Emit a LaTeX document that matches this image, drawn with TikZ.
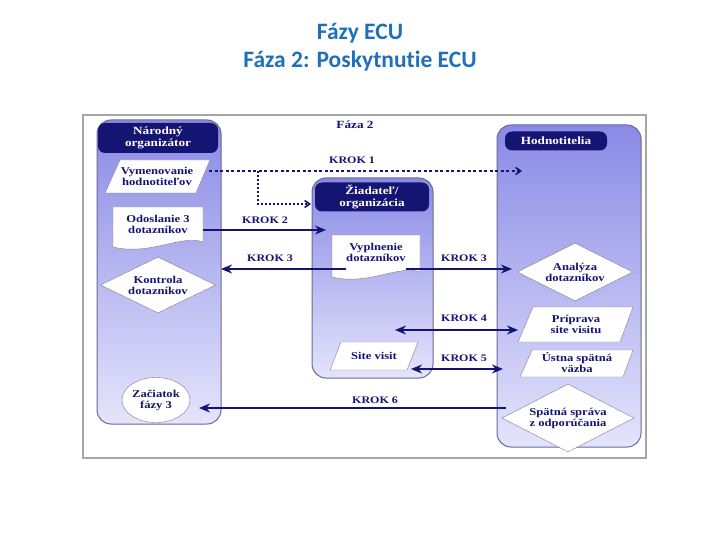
\documentclass[tikz,border=0pt]{standalone}
\usepackage{fontspec}
\setmainfont{Liberation Serif}
\newfontfamily\titlefont[Ligatures=NoCommon]{Carlito}
\newfontfamily\diafont[FakeStretch=1.2]{Liberation Serif}
\usetikzlibrary{shapes.geometric,arrows.meta}

\definecolor{navy}{RGB}{20,20,115}
\definecolor{titleblue}{RGB}{31,112,185}
\definecolor{lanetop}{RGB}{138,138,230}
\definecolor{lanebot}{RGB}{228,228,252}
\definecolor{laneline}{RGB}{105,105,150}
\definecolor{shapeline}{RGB}{125,125,145}

\tikzset{
  lane/.style={top color=lanetop, bottom color=lanebot, draw=laneline, line width=1pt, rounded corners=14pt},
  head/.style={fill=navy, text=white, rounded corners=7pt, align=center, inner sep=1pt,
    font=\diafont\bfseries\fontsize{11}{11.5}\selectfont},
  txt/.style={text=navy, align=center, inner sep=0pt,
    font=\diafont\bfseries\fontsize{10.5}{11}\selectfont},
  dia/.style={txt, diamond, draw=shapeline, fill=white, aspect=2},
  doc/.style={draw=shapeline, fill=white},
  flow/.style={navy, line width=2.6pt, -{Stealth[length=11pt,width=9pt]}},
  both/.style={navy, line width=2.6pt, {Stealth[length=11pt,width=9pt]}-{Stealth[length=11pt,width=9pt]}},
  dashflow/.style={navy, line width=1.6pt, dash pattern=on 3pt off 2.5pt, -{Straight Barb[length=5pt,width=7pt]}},
  krok/.style={text=navy, font=\diafont\bfseries\fontsize{10}{10}\selectfont}
}

\begin{document}
\begin{tikzpicture}[x=1pt,y=-1pt]
\useasboundingbox (0,0) rectangle (720,540);

% title
\node[font=\titlefont\bfseries\fontsize{23.5}{28}\selectfont, text=titleblue, align=center] (title) at (360,47) {Fázy ECU\\Fáza 2: Poskytnutie ECU};

% frame and lanes
\draw[draw=black!35, line width=1.2pt, fill=white] (83,115) rectangle (646,458);
\shade[lane] (97,120) rectangle (221,424);
\shade[lane] (312,178) rectangle (433,378);
\shade[lane] (497,125) rectangle (641,447);

\node[text=navy, font=\diafont\bfseries\fontsize{11}{11}\selectfont] (faza) at (355,125) {Fáza 2};

% lane headers
\node[head, minimum width=120, minimum height=30] (nat) at (158,138) {Národný\\organizátor};
\node[head, minimum width=114, minimum height=29] (zia) at (372,197) {Žiadateľ/\\organizácia};
\node[head, minimum width=102, minimum height=19] (hod) at (556,141) {Hodnotitelia};

% left lane
\draw[doc] (120,160) -- (210,160) -- (196,193) -- (105,193) -- cycle;
\node[txt] (vym) at (157,176) {Vymenovanie\\hodnotiteľov};
\draw[doc] (113,207) -- (203,207) -- (203,242) .. controls (182,234) and (150,256) .. (113,247) -- cycle;
\node[txt] (odo) at (158,224) {Odoslanie 3\\dotazníkov};
\node[dia, minimum width=115, minimum height=56] (kon) at (158,285) {Kontrola\\dotazníkov};
\node[txt, ellipse, draw=shapeline, fill=white, minimum width=68, minimum height=45] (zac) at (156,400) {Začiatok\\fázy 3};

% middle lane
\draw[doc] (332,235) -- (420,235) -- (420,272) .. controls (400,264) and (368,286) .. (332,277) -- cycle;
\node[txt] (vyp) at (376,252) {Vyplnenie\\dotazníkov};
\draw[doc] (341,342) -- (418,342) -- (407,370) -- (330,370) -- cycle;
\node[txt] (sit) at (374,356) {Site visit};

% right lane
\node[dia, minimum width=116, minimum height=58] (ana) at (575,272) {Analýza\\dotazníkov};
\draw[doc] (533,307) -- (633,307) -- (620,342) -- (518,342) -- cycle;
\node[txt] (pri) at (576,324) {Príprava\\site visitu};
\draw[doc] (532,350) -- (633,350) -- (623,377) -- (520,377) -- cycle;
\node[txt] (ust) at (577,363) {Ústna spätná\\väzba};
\node[dia, minimum width=132, minimum height=68, aspect=1.95] (spa) at (568,418) {Spätná správa\\z odporúčania};

% connectors
\coordinate (k1s) at (209,171);
\coordinate (k1b) at (258,171);
\coordinate (k1e) at (522,171);
\coordinate (k1z) at (311,204);
\draw[dashflow] (k1s) -- (k1e);
\draw[dashflow, dash pattern=on 2pt off 2pt] (k1b) |- (k1z);
\node[krok] at (352,160) {KROK 1};

\coordinate (k2s) at (203,230);
\coordinate (k2e) at (326,230);
\draw[flow] (k2s) -- (k2e);
\node[krok] at (265,220) {KROK 2};

\coordinate (k3l) at (221,269);
\coordinate (k3r) at (512,269);
\draw[flow] (vyp.west |- k3l) -- (k3l);
\draw[flow] (vyp.east |- k3r) -- (k3r);
\node[krok] at (270,258) {KROK 3};
\node[krok] at (464,258) {KROK 3};

\coordinate (k4a) at (395,330);
\coordinate (k4b) at (518,330);
\draw[both] (k4a) -- (k4b);
\node[krok] at (464,318) {KROK 4};

\coordinate (k5a) at (411,369);
\coordinate (k5b) at (503,369);
\draw[both] (k5a) -- (k5b);
\node[krok] at (464,358) {KROK 5};

\coordinate (k6s) at (506,408);
\coordinate (k6e) at (199,408);
\draw[flow] (k6s) -- (k6e);
\node[krok] at (375,400) {KROK 6};
\end{tikzpicture}
\end{document}
